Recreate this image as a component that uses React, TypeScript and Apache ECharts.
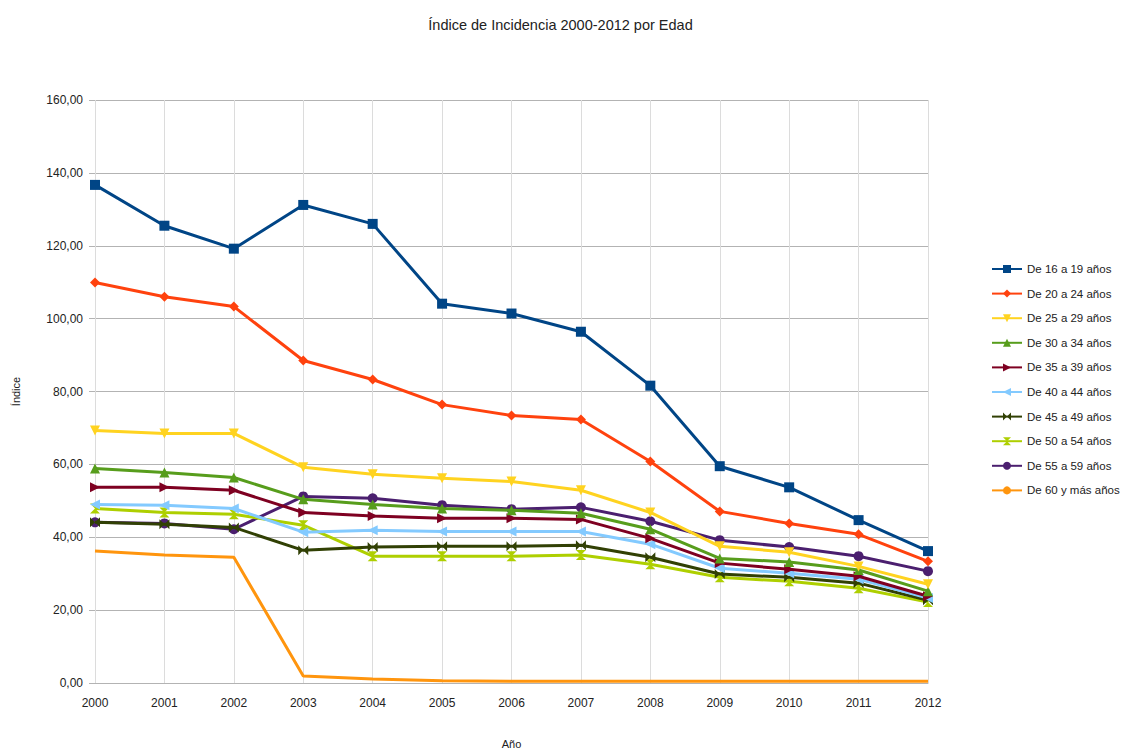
import React, { useEffect, useRef } from "react";
import * as echarts from "echarts";

const years = ["2000","2001","2002","2003","2004","2005","2006","2007","2008","2009","2010","2011","2012"];
const seriesNames = ["De 16 a 19 años","De 20 a 24 años","De 25 a 29 años","De 30 a 34 años","De 35 a 39 años","De 40 a 44 años","De 45 a 49 años","De 50 a 54 años","De 55 a 59 años","De 60 y más años"];
const colors = ["#004586","#ff420e","#ffd320","#579d1c","#7e0021","#83caff","#314004","#aecf00","#4b1f6f","#ff950e"];

const s16_19 = [136.7,125.5,119.2,131.2,126.0,104.1,101.4,96.4,81.6,59.5,53.7,44.7,36.2];
const s20_24 = [109.9,106.0,103.3,88.5,83.3,76.4,73.4,72.3,60.8,47.1,43.8,40.8,33.4];
const s25_29 = [69.3,68.5,68.5,59.2,57.3,56.2,55.3,52.9,46.8,37.5,35.9,32.0,27.1];
const s30_34 = [58.9,57.8,56.4,50.4,49.0,47.9,47.4,46.6,42.2,34.2,33.2,31.0,25.2];
const s35_39 = [53.7,53.7,52.9,46.8,45.8,45.2,45.2,44.9,39.7,32.9,31.2,29.3,23.8];
const s40_44 = [49.0,48.8,47.9,41.4,41.9,41.6,41.6,41.6,38.1,31.5,30.1,28.5,23.3];
const s45_49 = [44.1,43.6,42.7,36.4,37.3,37.5,37.5,37.8,34.5,29.9,29.0,27.4,22.7];
const s50_54 = [47.9,46.8,46.3,43.3,34.8,34.8,34.8,35.1,32.6,29.0,27.9,26.0,22.2];
const s55_59 = [44.1,43.8,42.2,51.2,50.7,48.8,47.7,48.2,44.4,39.2,37.3,34.8,30.7];
const s60 = [36.2,35.1,34.5,1.9,1.1,0.6,0.5,0.5,0.5,0.5,0.5,0.5,0.5];

const allData = [s16_19,s20_24,s25_29,s30_34,s35_39,s40_44,s45_49,s50_54,s55_59,s60];

const symbols = [
  "rect",
  "diamond",
  "path://M0,0 L10,0 L5,10 Z",
  "triangle",
  "path://M0,0 L10,5 L0,10 Z",
  "path://M10,0 L0,5 L10,10 Z",
  "path://M0,0 L10,10 L10,0 L0,10 Z",
  "path://M0,0 L10,0 L0,10 L10,10 Z",
  "circle",
  "none",
];

const FONT = "'Liberation Sans', Arial, sans-serif";

export default function App() {
  const ref = useRef<HTMLDivElement>(null);
  useEffect(() => {
    if (!ref.current) return;
    const chart = echarts.init(ref.current, null, { renderer: "svg" });
    chart.setOption({
      animation: false,
      backgroundColor: "#ffffff",
      textStyle: { fontFamily: FONT },
      title: {
        text: "Índice de Incidencia 2000-2012 por Edad",
        left: "center",
        top: 12,
        textStyle: { fontFamily: FONT, fontSize: 14.5, fontWeight: "normal", color: "#222" },
      },
      legend: {
        orient: "vertical",
        left: 986,
        top: 258,
        itemGap: 12.6,
        itemWidth: 30,
        itemHeight: 10,
        textStyle: { fontFamily: FONT, fontSize: 11.5, color: "#222" },
        data: seriesNames,
      },
      grid: { left: 95, right: 193, top: 100, bottom: 70, containLabel: false },
      xAxis: {
        type: "category",
        data: years,
        boundaryGap: false,
        name: "Año",
        nameLocation: "middle",
        nameGap: 55,
        nameTextStyle: { fontFamily: FONT, fontSize: 11, color: "#222" },
        axisLine: { show: true, lineStyle: { color: "#b3b3b3" } },
        axisTick: { show: false },
        axisLabel: { fontFamily: FONT, fontSize: 12, color: "#222", margin: 14 },
        splitLine: { show: true, lineStyle: { color: "#dcdcdc" } },
      },
      yAxis: {
        type: "value",
        min: 0,
        max: 160,
        interval: 20,
        name: "Índice",
        nameLocation: "middle",
        nameGap: 74,
        nameRotate: 90,
        nameTextStyle: { fontFamily: FONT, fontSize: 11, color: "#222" },
        axisLine: { show: false },
        axisTick: { show: true, length: 6, inside: false, lineStyle: { color: "#b3b3b3" } },
        axisLabel: {
          fontFamily: FONT,
          fontSize: 12,
          color: "#222",
          margin: 12,
          formatter: (v: number) => v.toFixed(2).replace(".", ","),
        },
        splitLine: { show: true, lineStyle: { color: "#b3b3b3" } },
      },
      series: allData.map((d, i) => ({
        name: seriesNames[i],
        type: "line",
        data: d,
        symbol: symbols[i],
        symbolSize: i === 9 ? 0 : 10,
        showSymbol: i !== 9,
        lineStyle: { width: 3, color: colors[i] },
        itemStyle: { color: colors[i] },
        z: 10 - i,
      })),
    });
    return () => chart.dispose();
  }, []);
  return (
    <div
      ref={ref}
      style={{ position: "absolute", left: 0, top: 0, width: 1121, height: 754 }}
    />
  );
}
